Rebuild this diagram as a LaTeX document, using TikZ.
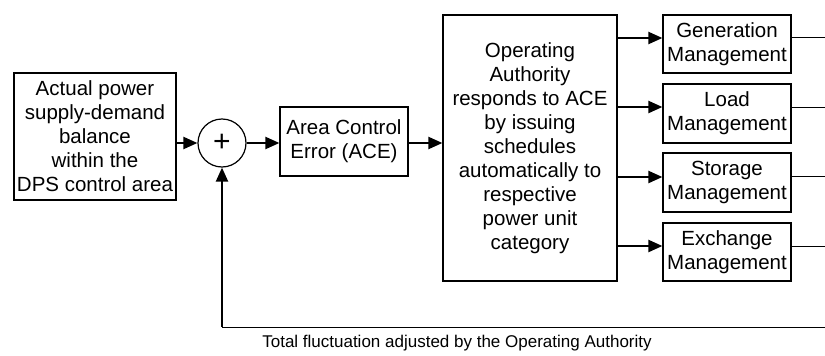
\documentclass[tikz,border=0pt]{standalone}
\usepackage{fontspec}
\setmainfont{Liberation Sans}
\usetikzlibrary{arrows.meta}
\begin{document}
\begin{tikzpicture}[x=1pt,y=-1pt,
  box/.style={draw,line width=1.2pt,inner sep=0pt,align=center,font=\fontsize{20.5}{24}\selectfont},
  arr/.style={line width=2.2pt,-{Triangle[length=14pt,width=12pt]}},
  thinl/.style={line width=1pt}]
\useasboundingbox (0,0) rectangle (825,356);
\node[box,minimum width=162pt,minimum height=127pt] (act) at (95,136.5) {Actual power\\supply-demand\\balance\\within the\\DPS control area};
\node[draw,line width=1.2pt,circle,minimum size=48pt,inner sep=0pt,font=\fontsize{30}{30}\selectfont] (sum) at (222,143) {+};
\node[box,minimum width=128pt,minimum height=69pt] (ace) at (344,141.5) {Area Control\\Error (ACE)};
\node[box,minimum width=174pt,minimum height=266pt] (oa) at (530,148) {Operating\\Authority\\responds to ACE\\by issuing\\schedules\\automatically to\\respective\\power unit\\category};
\node[box,minimum width=128pt,minimum height=58pt] (gen) at (727,44) {Generation\\Management};
\node[box,minimum width=128pt,minimum height=59pt] (load) at (727,113.5) {Load\\Management};
\node[box,minimum width=128pt,minimum height=59pt] (stor) at (727,182.5) {Storage\\Management};
\node[box,minimum width=128pt,minimum height=58pt] (exch) at (727,252) {Exchange\\Management};
\coordinate (gR) at (825,37);
\coordinate (lR) at (825,107);
\coordinate (sR) at (825,176);
\coordinate (eR) at (825,246);
\coordinate (fbR) at (825,327);
\coordinate (fbL) at (222,327);
\draw[arr] (act.east |- sum) -- (sum.west);
\draw[arr] (sum.east) -- (ace.west |- sum);
\draw[arr] (ace.east |- sum) -- (oa.west |- sum);
\draw[arr] (oa.east |- 0,38) -- (gen.west |- 0,38);
\draw[arr] (oa.east |- 0,107) -- (load.west |- 0,107);
\draw[arr] (oa.east |- 0,177) -- (stor.west |- 0,177);
\draw[arr] (oa.east |- 0,246) -- (exch.west |- 0,246);
\draw[thinl] (gen.east |- gR) -- (gR);
\draw[thinl] (load.east |- lR) -- (lR);
\draw[thinl] (stor.east |- sR) -- (sR);
\draw[thinl] (exch.east |- eR) -- (eR);
\draw[thinl] (fbR) -- (fbL);
\draw[arr] (fbL) -- (sum.south);
\node[font=\fontsize{17}{20}\selectfont] (lbl) at (457,343) {Total fluctuation adjusted by the Operating Authority};
\end{tikzpicture}
\end{document}
